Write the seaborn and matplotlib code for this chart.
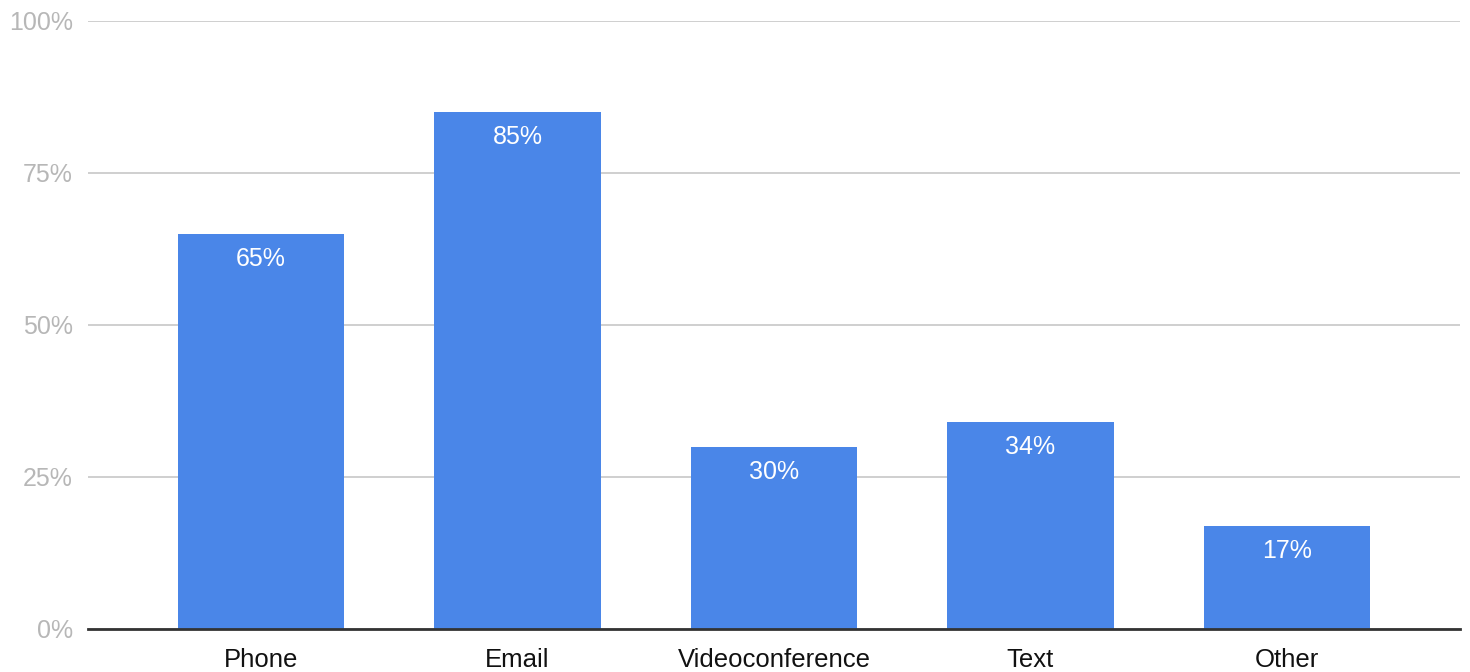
import matplotlib
matplotlib.use("Agg")
import matplotlib.pyplot as plt
import seaborn as sns
import pandas as pd
from matplotlib.ticker import FuncFormatter

# Communication channels and share of respondents using each
channels = ["Phone", "Email", "Videoconference", "Text", "Other"]
shares = [65, 85, 30, 34, 17]
y_ticks = [0, 25, 50, 75, 100]

df = pd.DataFrame({"channel": channels, "share": shares})

sns.set_theme(style="white")
plt.rcParams["font.family"] = ["Liberation Sans", "DejaVu Sans"]

fig = plt.figure(figsize=(14.7, 6.72), dpi=100)
ax = fig.add_axes([88 / 1470, 1 - 629 / 672, (1460 - 88) / 1470, (629 - 21) / 672])

sns.barplot(data=df, x="channel", y="share", color="#4a86e8", saturation=1,
            width=0.648, linewidth=0, edgecolor="none", ax=ax, zorder=3)

ax.set_ylim(0, 100)
ax.set_xlim(-0.675, 4.675)
ax.set_yticks(y_ticks)
ax.yaxis.set_major_formatter(FuncFormatter(lambda v, _: f"{v:.0f}%"))
ax.grid(axis="y", color="#cccccc", linewidth=1.3, zorder=0)
ax.grid(axis="x", visible=False)

for side in ["top", "right", "left"]:
    ax.spines[side].set_visible(False)
ax.spines["bottom"].set_color("#333333")
ax.spines["bottom"].set_linewidth(2)
ax.spines["bottom"].set_zorder(4)

ax.tick_params(axis="y", length=0, pad=11, labelsize=18, labelcolor="#b7b7b7")
ax.tick_params(axis="x", length=0, pad=14, labelsize=18.5, labelcolor="#111111")
ax.set_xlabel("")
ax.set_ylabel("")

# Value labels inside the top of each bar
for i, v in enumerate(shares):
    ax.annotate(f"{v}%", xy=(i, v), xytext=(0, -25), textcoords="offset pixels",
                ha="center", va="center", color="white", fontsize=18, zorder=5)

fig.savefig("out.png", dpi=100, facecolor="white")
